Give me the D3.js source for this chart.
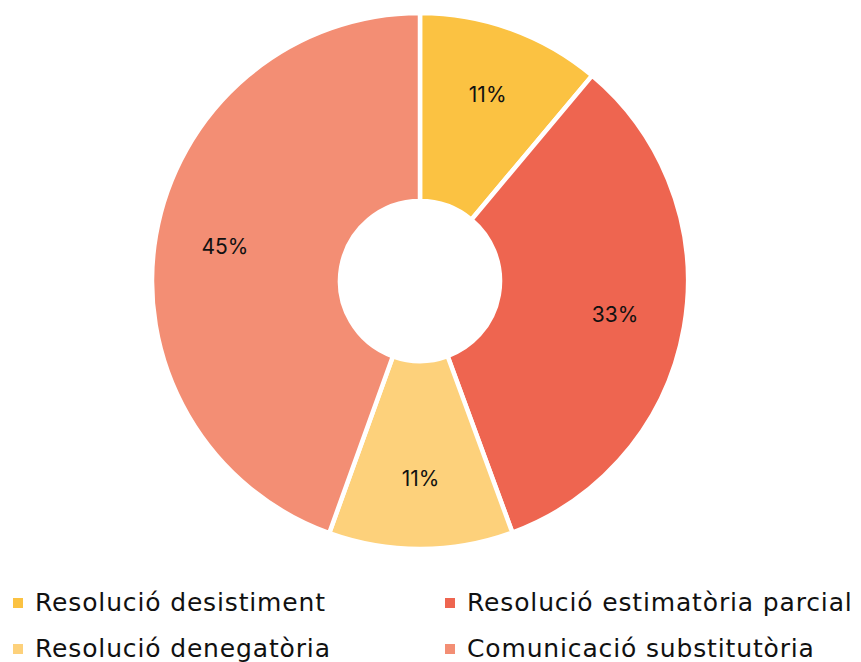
<!DOCTYPE html>
<html>
<head>
<meta charset="utf-8">
<script src="https://cdn.jsdelivr.net/npm/d3@7"></script>
<style>
  html, body { margin: 0; padding: 0; background: #fff; }
  svg { display: block; }
</style>
</head>
<body>
<svg id="chart" width="861" height="662"></svg>
<script>
const categories = ["Resolució desistiment", "Resolució estimatòria parcial", "Resolució denegatòria", "Comunicació substitutòria"];
const values = [11.1, 33.3, 11.1, 44.5];
const colors = ["#FBC242", "#EE6550", "#FDD17B", "#F38E74"];
const legendOrder = [0, 1, 2, 3];

const svg = d3.select("#chart");
const cx = 420, cy = 281, outerR = 268, innerR = 80;

const pie = d3.pie().sort(null).value(d => d)(values);
const arc = d3.arc().innerRadius(innerR).outerRadius(outerR);
const labelArc = d3.arc().innerRadius(198).outerRadius(198);

const g = svg.append("g").attr("transform", `translate(${cx},${cy})`);
g.selectAll("path").data(pie).join("path")
  .attr("d", arc)
  .attr("fill", (d, i) => colors[i])
  .attr("stroke", "#fff")
  .attr("stroke-width", 4.5)
  .attr("stroke-linejoin", "miter");

g.selectAll("text").data(pie).join("text")
  .attr("transform", d => `translate(${labelArc.centroid(d)})`)
  .attr("text-anchor", "middle")
  .attr("dy", "0.35em")
  .attr("font-family", "Inter, 'Noto Sans', sans-serif")
  .attr("font-size", 21)
  .attr("fill", "#111")
  .text(d => Math.round(d.data) + "%");

// legend: 2 columns x 2 rows
const legend = svg.append("g");
const colX = [13, 445];
const rowY = [611, 657];
legendOrder.forEach((idx, k) => {
  const col = k % 2, row = Math.floor(k / 2);
  const item = legend.append("g").attr("transform", `translate(${colX[col]},${rowY[row]})`);
  item.append("rect").attr("x", 0).attr("y", -13).attr("width", 10).attr("height", 10).attr("fill", colors[idx]);
  item.append("text").attr("x", 22).attr("y", 0)
    .attr("font-family", "'DejaVu Sans', sans-serif")
    .attr("font-size", 25)
    .attr("letter-spacing", 0.85)
    .attr("fill", "#111")
    .text(categories[idx]);
});
</script>
</body>
</html>
